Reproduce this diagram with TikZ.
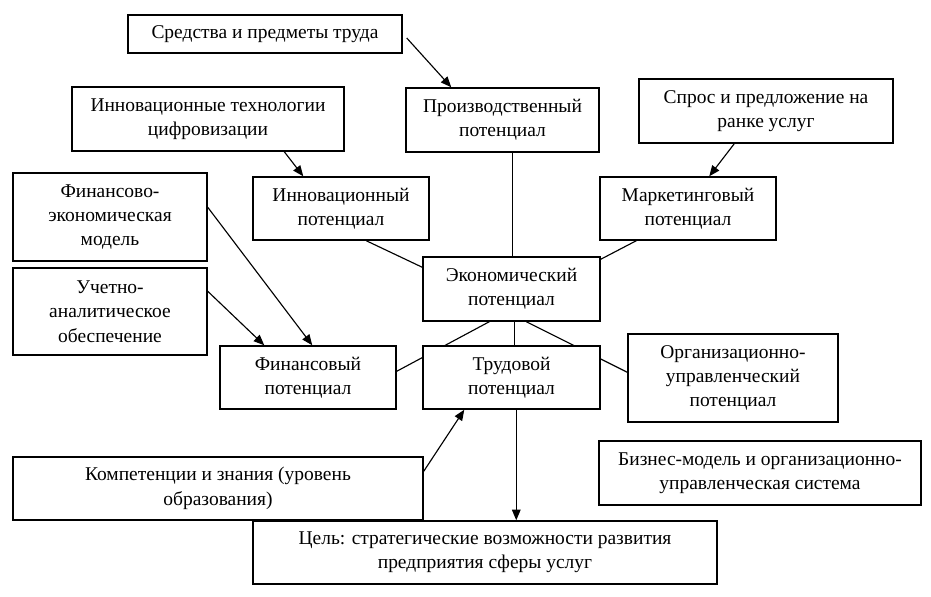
\documentclass[tikz,border=0pt]{standalone}
\usepackage{fontspec}
\setmainfont{Liberation Serif}
\usetikzlibrary{arrows.meta,calc}
\tikzset{
  box/.style={draw=black, line width=1.1pt, fill=white, align=center, inner sep=2pt,
    font=\fontsize{14.6}{18.3}\selectfont},
  link/.style={draw=black, line width=0.85pt},
  arr/.style={link, -{Triangle[length=8pt,width=6.5pt]}}
}
\begin{document}
\begin{tikzpicture}[x=0.75pt,y=-0.75pt]
\useasboundingbox (0,0) rectangle (931,596);
\fill[white] (0,0) rectangle (931,596);

% boxes (drawn first to get anchors; re-drawn over the lines below)
\def\boxes{%
\node[box, minimum width=205.5pt, minimum height=28.5pt] (sred) at (265,34) {Средства и предметы труда};
\node[box, minimum width=204pt, minimum height=48pt] (innt) at (208,119) {Инновационные технологии\\цифровизации};
\node[box, minimum width=144.75pt, minimum height=48pt] (proiz) at (502.5,120) {Производственный\\потенциал};
\node[box, minimum width=190.5pt, minimum height=48pt] (spros) at (766,111) {Спрос и предложение на\\ранке услуг};
\node[box, minimum width=132pt, minimum height=47.25pt] (mark) at (688,208.5) {Маркетинговый\\потенциал};
\node[box, minimum width=132pt, minimum height=47.25pt] (innp) at (341,208.5) {Инновационный\\потенциал};
\node[box, minimum width=145.5pt, minimum height=66pt] (finm) at (110,217) {Финансово-\\экономическая\\модель};
\node[box, minimum width=145.5pt, minimum height=65.25pt] (uch) at (110,311.5) {Учетно-\\аналитическое\\обеспечение};
\node[box, minimum width=132.75pt, minimum height=48pt] (econ) at (511.5,289) {Экономический\\потенциал};
\node[box, minimum width=132pt, minimum height=47.25pt] (finp) at (308,377.5) {Финансовый\\потенциал};
\node[box, minimum width=132.75pt, minimum height=47.25pt] (trud) at (511.5,377.5) {Трудовой\\потенциал};
\node[box, minimum width=157.5pt, minimum height=66pt] (org) at (733,378) {Организационно-\\управленческий\\потенциал};
\node[box, minimum width=241.5pt, minimum height=48pt] (biz) at (760,473) {Бизнес-модель и организационно-\\управленческая система};
\node[box, minimum width=307.5pt, minimum height=47.25pt] (komp) at (218,488.5) {Компетенции и знания (уровень\\образования)};
\node[box, minimum width=348pt, minimum height=47.25pt] (cel) at (485,552.5) {Цель: стратегические возможности развития\\предприятия сферы услуг};
}
\boxes

% connectors
\draw[arr] ($(sred.east)+(4,4)$) -- ($(proiz.north west)+(46,0)$);
\draw[arr] ($(innt.south west)+(213,0)$) -- ($(innp.north west)+(51,0)$);
\draw[arr] ($(spros.south west)+(96,0)$) -- ($(mark.north west)+(110,0)$);
\draw[arr] ($(finm.north east)+(0,35)$) -- ($(finp.north west)+(93,0)$);
\draw[arr] ($(uch.north east)+(0,24)$) -- ($(finp.north west)+(45,0)$);
\draw[link] ($(innp.south west)+(114,0)$) -- ($(econ.north west)+(0,11)$);
\draw[link] ($(proiz.south west)+(107,0)$) -- ($(econ.north west)+(90,0)$);
\draw[link] ($(mark.south west)+(37,0)$) -- ($(econ.north east)+(0,3)$);
\draw[link] ($(econ.south west)+(67,0)$) -- ($(finp.north east)+(0,26)$);
\draw[link] ($(econ.south west)+(92,0)$) -- ($(trud.north west)+(92,0)$);
\draw[link] ($(econ.south west)+(104,0)$) -- ($(org.north west)+(0,39)$);
\draw[arr] ($(trud.south west)+(94,0)$) -- ($(cel.north west)+(264,0)$);
\draw[arr] ($(komp.north east)+(0,15)$) -- ($(trud.south west)+(42,0)$);

% boxes on top of the lines
\boxes
\end{tikzpicture}
\end{document}
